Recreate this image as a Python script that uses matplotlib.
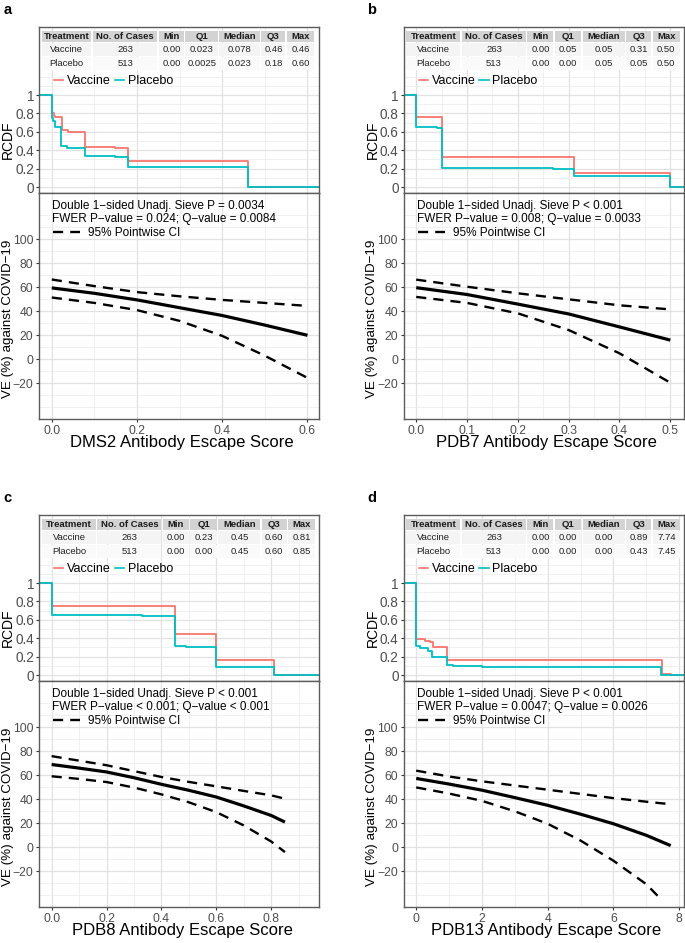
import matplotlib
matplotlib.use("Agg")
import matplotlib.pyplot as plt
from matplotlib.lines import Line2D
from matplotlib.patches import Rectangle

plt.rcParams["font.family"] = ["Liberation Sans", "DejaVu Sans"]

W, H = 685, 943
RED = "#F8766D"
TEAL = "#00BFC4"
FRAME = "#5c5c5c"
TICK_TXT = "#4d4d4d"

HEADER = ["Treatment", "No. of Cases", "Min", "Q1", "Median", "Q3", "Max"]
NOTE1 = "Double 1\u2212sided Unadj. Sieve P "

# ---- a: DMS2 ----
a_rows = [["Vaccine", "263", "0.00", "0.023", "0.078", "0.46", "0.46"],
          ["Placebo", "513", "0.00", "0.0025", "0.023", "0.18", "0.60"]]
a_vac_x = [-0.03, 0.0, 0.005, 0.007, 0.023, 0.038, 0.079, 0.148, 0.18, 0.46, 0.63]
a_vac_y = [1.0, 0.80, 0.77, 0.76, 0.62, 0.60, 0.435, 0.425, 0.28, 0.003, 0.003]
a_pla_x = [-0.03, 0.0, 0.004, 0.008, 0.022, 0.036, 0.079, 0.148, 0.18, 0.46, 0.63]
a_pla_y = [1.0, 0.75, 0.72, 0.655, 0.45, 0.425, 0.335, 0.325, 0.215, 0.0, 0.0]
a_ve_x = [0, 0.1, 0.2, 0.3, 0.4, 0.5, 0.6]
a_ve_est = [59.5, 55, 49.5, 43, 36.5, 28.5, 20]
a_ve_hi = [66.5, 61, 56, 52.5, 49.5, 47, 44.5]
a_ve_lo = [51.5, 47, 41, 32, 19.5, 3, -15.5]
a_notes = [NOTE1 + "= 0.0034", "FWER P\u2212value = 0.024; Q\u2212value = 0.0084"]

# ---- b: PDB7 ----
b_rows = [["Vaccine", "263", "0.00", "0.05", "0.05", "0.31", "0.50"],
          ["Placebo", "513", "0.00", "0.00", "0.05", "0.05", "0.50"]]
b_vac_x = [-0.025, 0.0, 0.05, 0.20, 0.31, 0.5, 0.53]
b_vac_y = [1.0, 0.757, 0.33, 0.322, 0.155, 0.0, 0.0]
b_pla_x = [-0.025, 0.0, 0.04, 0.05, 0.27, 0.31, 0.5, 0.53]
b_pla_y = [1.0, 0.655, 0.64, 0.21, 0.20, 0.115, 0.0, 0.0]
b_ve_x = [0, 0.1, 0.2, 0.3, 0.4, 0.5]
b_ve_est = [59.7, 54, 46, 37.8, 27, 16]
b_ve_hi = [66.4, 60.5, 55, 50, 45, 41.6]
b_ve_lo = [52, 47, 38.3, 24.4, 5, -19.5]
b_notes = [NOTE1 + "< 0.001", "FWER P\u2212value = 0.008; Q\u2212value = 0.0033"]

# ---- c: PDB8 ----
c_rows = [["Vaccine", "263", "0.00", "0.23", "0.45", "0.60", "0.81"],
          ["Placebo", "513", "0.00", "0.00", "0.45", "0.60", "0.85"]]
c_vac_x = [-0.046, 0.0, 0.45, 0.60, 0.81, 0.98]
c_vac_y = [1.0, 0.75, 0.447, 0.167, 0.0, 0.0]
c_pla_x = [-0.046, 0.0, 0.33, 0.45, 0.49, 0.60, 0.81, 0.98]
c_pla_y = [1.0, 0.655, 0.64, 0.313, 0.305, 0.09, 0.0, 0.0]
c_ve_x = [0, 0.1, 0.2, 0.3, 0.4, 0.5, 0.6, 0.7, 0.8, 0.85]
c_ve_est = [69, 66, 62.8, 58, 52.5, 47.5, 41.9, 34.5, 26.5, 21]
c_ve_hi = [76, 72.2, 68.4, 63.5, 58.6, 54.5, 50.8, 47, 43.3, 40.5]
c_ve_lo = [59.2, 57, 54.4, 49.8, 44.1, 37.5, 29.3, 18.2, 4.8, -4]
c_notes = [NOTE1 + "< 0.001", "FWER P\u2212value < 0.001; Q\u2212value < 0.001"]

# ---- d: PDB13 ----
d_rows = [["Vaccine", "263", "0.00", "0.00", "0.00", "0.89", "7.74"],
          ["Placebo", "513", "0.00", "0.00", "0.00", "0.43", "7.45"]]
d_vac_x = [-0.39, 0.0, 0.27, 0.42, 0.52, 0.93, 7.47, 7.74, 8.2]
d_vac_y = [1.0, 0.39, 0.375, 0.355, 0.30, 0.163, 0.01, 0.0, 0.0]
d_pla_x = [-0.39, 0.0, 0.13, 0.36, 0.47, 0.93, 1.12, 2.0, 7.45, 8.2]
d_pla_y = [1.0, 0.31, 0.29, 0.26, 0.20, 0.11, 0.10, 0.09, 0.0, 0.0]
d_ve_x = [0, 1, 2, 3, 4, 5, 6, 7, 7.74]
d_ve_est = [57.4, 52.7, 47.6, 41.4, 35, 27.6, 19.6, 10, 1.4]
d_ve_hi = [63.9, 59, 55, 51.5, 48, 44.5, 41, 38, 35.9]
d_lo_x = [0, 1, 2, 3, 4, 5, 6, 7, 7.4]
d_ve_lo = [49.9, 44.8, 38.7, 30, 19.6, 5.6, -11.2, -30.8, -42]
d_notes = [NOTE1 + "< 0.001", "FWER P\u2212value = 0.0047; Q\u2212value = 0.0026"]


def fig_box(l, t, r, b):
    return [l / W, 1 - b / H, (r - l) / W, (b - t) / H]


def style_frame(ax):
    for sp in ax.spines.values():
        sp.set_color(FRAME)
        sp.set_linewidth(1.0)
    ax.set_axisbelow(True)
    ax.grid(True, which="major", color="#e2e2e2", lw=0.9)
    ax.grid(True, which="minor", color="#ececec", lw=0.55)
    ax.tick_params(which="minor", length=0)


def draw_table(ov, x0, top, colw, rows):
    x = x0
    for j, w in enumerate(colw):
        ov.add_patch(Rectangle((x, top), w - 1.5, 11, fc="#d3d3d3", ec="none"))
        ov.text(x + (w - 1.5) / 2, top + 5.6, HEADER[j], ha="center", va="center",
                fontsize=6.8, fontweight="bold", color="#1a1a1a")
        for i, row in enumerate(rows):
            y = top + 12 + 13.5 * i
            ov.add_patch(Rectangle((x, y), w - 1.5, 13,
                                   fc="#f4f4f4" if i == 0 else "#fafafa", ec="none"))
            ov.text(x + (w - 1.5) / 2, y + 6.6, row[j], ha="center", va="center",
                    fontsize=6.8, color="#222222")
        x += w


def draw_panel(fig, ov, geo, tag, rows, colw, steps, ve, notes, xlim, xmajor,
               xlabels, xminor, xlabel):
    L, T, R = geo
    M, B = T + 166, T + 392
    vac_x, vac_y, pla_x, pla_y = steps
    ve_x, est, hi, lo_x, lo = ve

    # RCDF part
    ax1 = fig.add_axes(fig_box(L, T, R, M))
    ax1.step(vac_x, vac_y, where="post", color=RED, lw=1.3)
    ax1.step(pla_x, pla_y, where="post", color=TEAL, lw=1.3)
    ax1.set_xlim(*xlim)
    ax1.set_ylim(-0.065, 1.739)
    ax1.set_xticks(xmajor)
    ax1.set_xticks(xminor, minor=True)
    ax1.set_yticks([0, 0.2, 0.4, 0.6, 0.8, 1.0])
    ax1.set_yticklabels(["0", "0.2", "0.4", "0.6", "0.8", "1"])
    ax1.set_yticks([0.1, 0.3, 0.5, 0.7, 0.9, 1.1, 1.2], minor=True)
    style_frame(ax1)
    ax1.tick_params(axis="x", which="both", length=0, labelbottom=False)
    ax1.tick_params(axis="y", which="major", length=2.5, width=0.8, color="#333333",
                    labelsize=9.8, labelcolor=TICK_TXT, pad=1)
    handles = [Line2D([], [], color=RED, lw=1.2), Line2D([], [], color=TEAL, lw=1.2)]
    ax1.legend(handles, ["Vaccine", "Placebo"], ncol=2, frameon=False, fontsize=9,
               loc="center left", bbox_to_anchor=(15 / (R - L), (M - T - 54) / 166),
               borderpad=0, borderaxespad=0, handlelength=0.75, handletextpad=0.3,
               columnspacing=0.3)

    # VE part
    ax2 = fig.add_axes(fig_box(L, M, R, B))
    ax2.plot(ve_x, est, color="black", lw=2.3, solid_capstyle="butt")
    ax2.plot(ve_x, hi, color="black", lw=1.7, dashes=(4.3, 3.0))
    ax2.plot(lo_x, lo, color="black", lw=1.7, dashes=(4.3, 3.0))
    ax2.set_xlim(*xlim)
    ax2.set_ylim(-49.75, 138.6)
    ax2.set_xticks(xmajor)
    ax2.set_xticklabels(xlabels)
    ax2.set_xticks(xminor, minor=True)
    ax2.set_yticks([-20, 0, 20, 40, 60, 80, 100])
    ax2.set_yticklabels(["\u221220", "0", "20", "40", "60", "80", "100"])
    ax2.set_yticks([-40, -30, -10, 10, 30, 50, 70, 90, 110, 120], minor=True)
    style_frame(ax2)
    ax2.tick_params(which="major", length=2.5, width=0.8, color="#333333",
                    labelsize=8.8, labelcolor=TICK_TXT, pad=1.5)
    h = B - M
    ax2.text(13 / (R - L), 1 - 13 / h, notes[0], transform=ax2.transAxes,
             fontsize=8.5, va="center")
    ax2.text(13 / (R - L), 1 - 26 / h, notes[1], transform=ax2.transAxes,
             fontsize=8.5, va="center")
    ci = Line2D([], [], color="black", lw=1.7, dashes=(4.3, 3.0))
    ax2.legend([ci], ["95% Pointwise CI"], frameon=False, fontsize=8.5,
               loc="center left", bbox_to_anchor=(14 / (R - L), 1 - 40 / h),
               borderpad=0, borderaxespad=0, handlelength=2.3, handletextpad=0.7)

    # titles and tag
    ov.text(L - 31, T + 113, "RCDF", rotation=90, ha="center", va="center",
            fontsize=10)
    ov.text(L - 31, M + 126, "VE (%) against COVID\u221219", rotation=90,
            ha="center", va="center", fontsize=9.6)
    ov.text((L + R) / 2 + 3, B + 24, xlabel, ha="center", va="center", fontsize=12)
    ov.text(L - 31.5, T - 17, tag, ha="center", va="center", fontsize=10.5,
            fontweight="bold")

    draw_table(ov, L + 3, T + 4, colw, rows)


fig = plt.figure(figsize=(W / 100, H / 100), dpi=100)
ov = fig.add_axes([0, 0, 1, 1], zorder=10)
ov.set_xlim(0, W)
ov.set_ylim(H, 0)
ov.axis("off")
ov.patch.set_alpha(0)

wide = [55.5, 65.5, 27.5, 28, 43.3, 26.5, 28.5]
draw_panel(fig, ov, (39, 27, 319), "a", a_rows, [51, 66, 26.5, 34, 42, 25.5, 28.5],
           (a_vac_x, a_vac_y, a_pla_x, a_pla_y),
           (a_ve_x, a_ve_est, a_ve_hi, a_ve_x, a_ve_lo), a_notes,
           (-0.03, 0.627), [0, 0.2, 0.4, 0.6], ["0.0", "0.2", "0.4", "0.6"],
           [0.1, 0.3, 0.5], "DMS2 Antibody Escape Score")
draw_panel(fig, ov, (403.5, 27, 683.5), "b", b_rows, wide,
           (b_vac_x, b_vac_y, b_pla_x, b_pla_y),
           (b_ve_x, b_ve_est, b_ve_hi, b_ve_x, b_ve_lo), b_notes,
           (-0.025, 0.526), [0, 0.1, 0.2, 0.3, 0.4, 0.5],
           ["0.0", "0.1", "0.2", "0.3", "0.4", "0.5"],
           [0.05, 0.15, 0.25, 0.35, 0.45], "PDB7 Antibody Escape Score")
draw_panel(fig, ov, (39, 515, 319), "c", c_rows, wide,
           (c_vac_x, c_vac_y, c_pla_x, c_pla_y),
           (c_ve_x, c_ve_est, c_ve_hi, c_ve_x, c_ve_lo), c_notes,
           (-0.046, 0.974), [0, 0.2, 0.4, 0.6, 0.8], ["0.0", "0.2", "0.4", "0.6", "0.8"],
           [0.1, 0.3, 0.5, 0.7, 0.9], "PDB8 Antibody Escape Score")
draw_panel(fig, ov, (403.5, 515, 683.5), "d", d_rows, wide,
           (d_vac_x, d_vac_y, d_pla_x, d_pla_y),
           (d_ve_x, d_ve_est, d_ve_hi, d_lo_x, d_ve_lo), d_notes,
           (-0.387, 8.13), [0, 2, 4, 6, 8], ["0", "2", "4", "6", "8"],
           [1, 3, 5, 7], "PDB13 Antibody Escape Score")

fig.savefig("out.png", dpi=100)
